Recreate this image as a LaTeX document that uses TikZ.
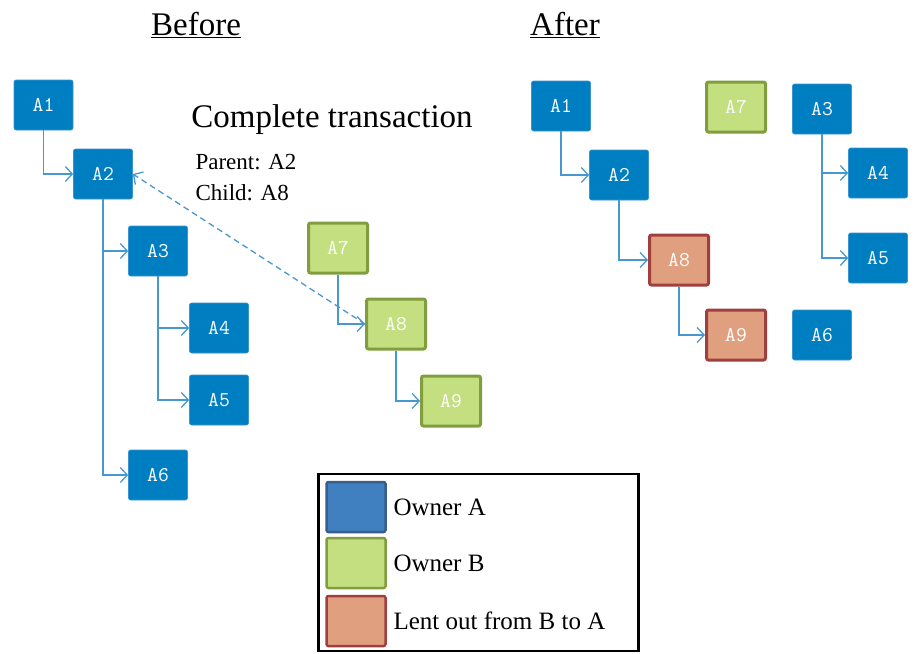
\documentclass[tikz,border=0pt]{standalone}
\usepackage{fontspec}
\setmainfont{Liberation Serif}
\usetikzlibrary{arrows.meta}

\definecolor{ownera}{RGB}{0,126,194}
\definecolor{ownerarim}{RGB}{60,148,208}
\definecolor{ownerb}{RGB}{195,223,128}
\definecolor{ownerbrim}{RGB}{128,158,62}
\definecolor{lent}{RGB}{224,160,128}
\definecolor{lentrim}{RGB}{160,64,62}
\definecolor{linkblue}{RGB}{72,152,208}
\definecolor{keya}{RGB}{64,128,192}
\definecolor{keyarim}{RGB}{58,94,138}

\begin{document}
\begin{tikzpicture}[x=1pt,y=-1pt,
    blk/.style={rounded corners=2pt,minimum width=59pt,minimum height=50pt,
        inner sep=0pt,text=white,font=\ttfamily\fontsize{21}{21}\selectfont},
    ablk/.style={blk,fill=ownera,draw=ownerarim,line width=0.6pt},
    bblk/.style={blk,fill=ownerb,draw=ownerbrim,line width=3pt},
    lblk/.style={blk,fill=lent,draw=lentrim,line width=3pt},
    conn/.style={draw=linkblue,line width=1.3pt,
        -{Straight Barb[length=7pt,width=15pt]}},
    title/.style={font=\fontsize{33}{36}\selectfont},
    keytext/.style={anchor=west,font=\fontsize{25}{28}\selectfont}]
    \useasboundingbox (0,0) rectangle (920,653);

    % Before
    \node[title] (before) at (196,25) {\underline{Before}};
    \node[ablk] (A1) at (43.5,105) {A1};
    \node[ablk] (A2) at (103,174) {A2};
    \node[ablk] (A3) at (158,251) {A3};
    \node[ablk] (A4) at (219,328) {A4};
    \node[ablk] (A5) at (219,400) {A5};
    \node[ablk] (A6) at (158,475) {A6};
    \node[bblk] (A7) at (338,248) {A7};
    \node[bblk] (A8) at (396,324) {A8};
    \node[bblk] (A9) at (451,401) {A9};
    \draw[conn] (A1.south) |- (A2.west);
    \draw[conn] (A2.south) |- (A3.west);
    \draw[conn] (A2.south) |- (A6.west);
    \draw[conn] (A3.south) |- (A4.west);
    \draw[conn] (A3.south) |- (A5.west);
    \draw[conn] (A7.south) |- (A8.west);
    \draw[conn] (A8.south) |- (A9.west);
    \draw[conn,dash pattern=on 6pt off 4pt] (A8.west) -- (A2.east);

    \node[title] (trans) at (332,120) {Complete transaction};
    \node[anchor=west,font=\fontsize{23}{26}\selectfont] (parent) at (192,162) {Parent: A2};
    \node[anchor=west,font=\fontsize{23}{26}\selectfont] (child) at (192,193) {Child: A8};

    % After
    \node[title] (after) at (565,25) {\underline{After}};
    \node[ablk] (B1) at (561,106) {A1};
    \node[ablk] (B2) at (619,175) {A2};
    \node[lblk] (B8) at (679,260) {A8};
    \node[lblk] (B9) at (736,335) {A9};
    \node[bblk] (B7) at (736,107) {A7};
    \node[ablk] (B3) at (822,109) {A3};
    \node[ablk] (B4) at (878,173) {A4};
    \node[ablk] (B5) at (878,258) {A5};
    \node[ablk] (B6) at (822,335) {A6};
    \draw[conn] (B1.south) |- (B2.west);
    \draw[conn] (B2.south) |- (B8.west);
    \draw[conn] (B8.south) |- (B9.west);
    \draw[conn] (B3.south) |- (B4.west);
    \draw[conn] (B3.south) |- (B5.west);

    % Legend
    \node[draw,line width=2.5pt,minimum width=320pt,minimum height=177pt,
          inner sep=0pt] (key) at (478.5,562.5) {};
    \node[blk,fill=keya,draw=keyarim,line width=2.5pt] (keyA) at (356,507) {};
    \node[blk,fill=ownerb,draw=ownerbrim,line width=2.5pt] (keyB) at (356,563) {};
    \node[blk,fill=lent,draw=lentrim,line width=2.5pt] (keyL) at (356,621) {};
    \node[keytext] (keyAtext) at (390,507) {Owner A};
    \node[keytext] (keyBtext) at (390,563) {Owner B};
    \node[keytext] (keyLtext) at (390,621) {Lent out from B to A};
\end{tikzpicture}
\end{document}
